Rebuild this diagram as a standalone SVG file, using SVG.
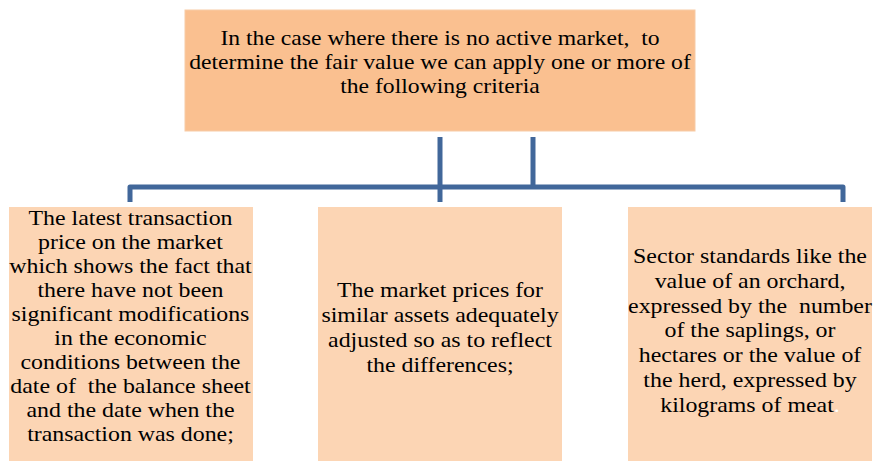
<svg xmlns="http://www.w3.org/2000/svg" width="873" height="461" viewBox="0 0 873 461">
<defs>
<rect id="subbox" width="244" height="254" fill="#FCD5B4"/>
</defs>
<rect width="873" height="461" fill="#fff"/>
<g id="connectors" stroke="#41679A" stroke-width="5" fill="none" stroke-linejoin="round">
<path d="M440 137 V202"/>
<path d="M533 137 V187"/>
<path d="M130 202 V187 H843 V202"/>
</g>
<g id="top">
<rect x="185" y="10" width="510" height="121" fill="#FAC090" stroke="#F7CBA6" stroke-width="1"/>
<g transform="matrix(1.1 0 0 1 -44 0)">
<text x="440" y="45" text-anchor="middle" font-family="Liberation Serif" font-size="21.5">In the case where there is no active market,&#160; to</text>
<text x="440" y="69" text-anchor="middle" font-family="Liberation Serif" font-size="21.5">determine the fair value we can apply one or more of</text>
<text x="440" y="93" text-anchor="middle" font-family="Liberation Serif" font-size="21.5">the following criteria</text>
</g>
</g>
<g id="box1">
<use href="#subbox" x="9" y="207"/>
<g transform="matrix(1.085 0 0 1 -11.09 0)">
<text x="130.5" y="225" text-anchor="middle" font-family="Liberation Serif" font-size="22">The latest transaction</text>
<text x="130.5" y="249" text-anchor="middle" font-family="Liberation Serif" font-size="22">price on the market</text>
<text x="130.5" y="273" text-anchor="middle" font-family="Liberation Serif" font-size="22">which shows the fact that</text>
<text x="130.5" y="297" text-anchor="middle" font-family="Liberation Serif" font-size="22">there have not been</text>
<text x="130.5" y="321" text-anchor="middle" font-family="Liberation Serif" font-size="22">significant modifications</text>
<text x="130.5" y="345" text-anchor="middle" font-family="Liberation Serif" font-size="22">in the economic</text>
<text x="130.5" y="369" text-anchor="middle" font-family="Liberation Serif" font-size="22">conditions between the</text>
<text x="130.5" y="393" text-anchor="middle" font-family="Liberation Serif" font-size="22">date of&#160; the balance sheet</text>
<text x="130.5" y="417" text-anchor="middle" font-family="Liberation Serif" font-size="22">and the date when the</text>
<text x="130.5" y="441" text-anchor="middle" font-family="Liberation Serif" font-size="22">transaction was done;</text>
</g>
</g>
<g id="box2">
<use href="#subbox" x="318" y="207"/>
<g transform="matrix(1.085 0 0 1 -37.4 0)">
<text x="440" y="297" text-anchor="middle" font-family="Liberation Serif" font-size="22">The market prices for</text>
<text x="440" y="322" text-anchor="middle" font-family="Liberation Serif" font-size="22">similar assets adequately</text>
<text x="440" y="347" text-anchor="middle" font-family="Liberation Serif" font-size="22">adjusted so as to reflect</text>
<text x="440" y="372" text-anchor="middle" font-family="Liberation Serif" font-size="22">the differences;</text>
</g>
</g>
<g id="box3">
<use href="#subbox" x="628" y="207"/>
<g transform="matrix(1.085 0 0 1 -63.75 0)">
<text x="750" y="263" text-anchor="middle" font-family="Liberation Serif" font-size="22">Sector standards like the</text>
<text x="750" y="288" text-anchor="middle" font-family="Liberation Serif" font-size="22">value of an orchard,</text>
<text x="750" y="313" text-anchor="middle" font-family="Liberation Serif" font-size="22">expressed by the&#160; number</text>
<text x="750" y="337" text-anchor="middle" font-family="Liberation Serif" font-size="22">of the saplings, or</text>
<text x="750" y="362" text-anchor="middle" font-family="Liberation Serif" font-size="22">hectares or the value of</text>
<text x="750" y="387" text-anchor="middle" font-family="Liberation Serif" font-size="22">the herd, expressed by</text>
<text x="750" y="412" text-anchor="middle" font-family="Liberation Serif" font-size="22">kilograms of meat<tspan fill="#fff">.</tspan></text>
</g>
</g>
</svg>
